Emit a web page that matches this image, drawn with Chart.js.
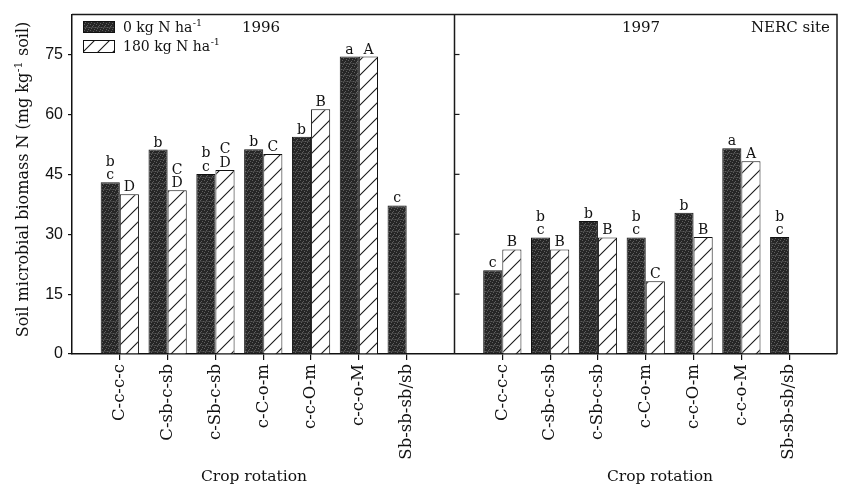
<!DOCTYPE html>
<html><head><meta charset="utf-8">
<script src="https://cdn.jsdelivr.net/npm/chart.js@4.4.0/dist/chart.umd.min.js"></script>
<style>html,body{margin:0;padding:0;background:#fff;}canvas{display:block;}</style>
</head><body>
<canvas id="c" width="844" height="484"></canvas>
<script>
// ---- data ----
const rotations = ['C-c-c-c','C-sb-c-sb','c-Sb-c-sb','c-C-o-m','c-c-O-m','c-c-o-M','Sb-sb-sb/sb'];
const panelYears = ['1996','1997'];
const siteName = 'NERC site';
const seriesMain = ['0 kg N ha','180 kg N ha'];
const seriesSup = '-1';
const yTicks = [0,15,30,45,60,75];
const n0_1996   = [43.0, 51.2, 45.1, 51.3, 54.4, 74.5, 37.2];
const n180_1996 = [40.0, 41.0, 46.1, 50.1, 61.3, 74.5, null];
const n0_1997   = [21.0, 29.2, 33.3, 29.2, 35.4, 51.5, 29.3];
const n180_1997 = [26.2, 26.2, 29.2, 18.2, 29.3, 48.3, null];
const let0_1996   = [['b','c'],['b'],['b','c'],['b'],['b'],['a'],['c']];
const let180_1996 = [['D'],['C','D'],['C','D'],['C'],['B'],['A'],[]];
const let0_1997   = [['c'],['b','c'],['b'],['b','c'],['b'],['a'],['b','c']];
const let180_1997 = [['B'],['B'],['B'],['C'],['B'],['A'],[]];

// ---- build ----
const nCat = rotations.length;
const rightOffset = nCat + 1;
const xPos = [];
rotations.forEach((r,i)=>xPos.push(i));
rotations.forEach((r,i)=>xPos.push(i+rightOffset));
const xLabels = rotations.concat(rotations);
const vals0 = n0_1996.concat(n0_1997);
const vals180 = n180_1996.concat(n180_1997);
const lets0 = let0_1996.concat(let0_1997);
const lets180 = let180_1996.concat(let180_1997);

const canvas = document.getElementById('c');
const mainCtx = canvas.getContext('2d');

function darkPattern(){
  const t=document.createElement('canvas'); t.width=6; t.height=6;
  const g=t.getContext('2d');
  g.fillStyle='#262626'; g.fillRect(0,0,6,6);
  g.fillStyle='#404040'; g.fillRect(0,3,6,1);
  g.fillStyle='#5e5e5e';
  [[0,0],[3,1],[1,4],[4,5],[2,2],[5,3]].forEach(p=>g.fillRect(p[0],p[1],1,1));
  return mainCtx.createPattern(t,'repeat');
}
function hatchPattern(){
  const s=15;
  const t=document.createElement('canvas'); t.width=s; t.height=s;
  const g=t.getContext('2d');
  g.fillStyle='#fff'; g.fillRect(0,0,s,s);
  g.strokeStyle='#1a1a1a'; g.lineWidth=1.1;
  g.beginPath();
  g.moveTo(-1,s+1); g.lineTo(s+1,-1);
  g.moveTo(-s/2-1,s/2+1); g.lineTo(s/2+1,-s/2-1);
  g.moveTo(s/2-1,s*1.5+1); g.lineTo(s*1.5+1,s/2-1);
  g.stroke();
  return mainCtx.createPattern(t,'repeat');
}

const SERIF='"DejaVu Serif", serif';

function drawWithSup(ctx, x, y, main, sup, size, align){
  ctx.font = size+'px '+SERIF;
  const w1 = ctx.measureText(main).width;
  ctx.font = (size*0.68)+'px '+SERIF;
  const w2 = ctx.measureText(sup).width;
  const total = w1 + w2;
  let x0 = x;
  if(align==='center') x0 = x - total/2;
  ctx.textAlign='left';
  ctx.font = size+'px '+SERIF;
  ctx.fillText(main, x0, y);
  ctx.font = (size*0.68)+'px '+SERIF;
  ctx.fillText(sup, x0+w1+0.5, y - size*0.42);
  return total;
}

const decor = {
  id:'decor',
  afterDraw(chart){
    const ctx=chart.ctx, ca=chart.chartArea, xs=chart.scales.x, ys=chart.scales.y;
    ctx.save();
    ctx.strokeStyle='#1a1a1a'; ctx.lineWidth=1.5;
    // frame top/right
    ctx.beginPath();
    ctx.moveTo(ca.left, ca.top); ctx.lineTo(ca.right, ca.top); ctx.lineTo(ca.right, ca.bottom);
    ctx.stroke();
    // divider
    const xd = xs.getPixelForValue(nCat);
    ctx.beginPath(); ctx.moveTo(xd, ca.top); ctx.lineTo(xd, ca.bottom); ctx.stroke();
    // inward ticks on divider
    ctx.lineWidth=1.2;
    yTicks.forEach(v=>{ if(v===0) return; const y=ys.getPixelForValue(v);
      ctx.beginPath(); ctx.moveTo(xd,y); ctx.lineTo(xd+5,y); ctx.stroke(); });
    ctx.fillStyle='#111';
    ctx.textBaseline='alphabetic';
    // letters above bars
    [lets0, lets180].forEach((L,di)=>{
      const meta=chart.getDatasetMeta(di);
      meta.data.forEach((el,i)=>{
        const arr=L[i]; if(!arr||!arr.length) return;
        const v = di===0?vals0[i]:vals180[i]; if(v==null) return;
        ctx.font='14px '+SERIF; ctx.textAlign='center';
        for(let j=arr.length-1, k=0;j>=0;j--,k++){
          ctx.fillText(arr[j], el.x, el.y-3-k*13.5);
        }
      });
    });
    // legend
    const ds=chart.data.datasets;
    const boxes=[[83,21,31,11],[83,40,31,12]];
    ds.forEach((d,i)=>{
      const b=boxes[i];
      ctx.fillStyle=d.backgroundColor; ctx.fillRect(b[0],b[1],b[2],b[3]);
      ctx.strokeStyle='#111'; ctx.lineWidth=1; ctx.strokeRect(b[0]+0.5,b[1]+0.5,b[2],b[3]);
      ctx.fillStyle='#111';
      drawWithSup(ctx,123,b[1]+b[3]/2+5,seriesMain[i],seriesSup,14,'left');
    });
    // panel titles
    ctx.fillStyle='#111';
    ctx.font='15px '+SERIF; ctx.textAlign='center';
    ctx.fillText(panelYears[0], 261, 32);
    ctx.fillText(panelYears[1], 641, 32);
    ctx.textAlign='right';
    ctx.fillText(siteName, 830, 32);
    // x titles
    ctx.textAlign='center';
    ctx.font='15.5px '+SERIF;
    ctx.fillText('Crop rotation', 254, 481);
    ctx.fillText('Crop rotation', 660, 481);
    // y title
    ctx.save();
    ctx.translate(28, 180); ctx.rotate(-Math.PI/2);
    ctx.font='16px '+SERIF;
    const p1='Soil microbial biomass N (mg kg', p2='-1', p3=' soil)';
    const w1=ctx.measureText(p1).width;
    ctx.font='11px '+SERIF; const w2=ctx.measureText(p2).width;
    ctx.font='16px '+SERIF; const w3=ctx.measureText(p3).width;
    let x0=-(w1+w2+w3)/2;
    ctx.textAlign='left';
    ctx.fillText(p1,x0,0);
    ctx.font='11px '+SERIF; ctx.fillText(p2,x0+w1+0.5,-6);
    ctx.font='16px '+SERIF; ctx.fillText(p3,x0+w1+w2+1,0);
    ctx.restore();
    ctx.restore();
  }
};

new Chart(canvas, {
  type:'bar',
  data:{
    datasets:[
      {label:seriesMain[0]+seriesSup, data:xPos.map((x,i)=>({x:x,y:vals0[i]})),
       backgroundColor:darkPattern(), borderColor:'#111', borderWidth:1,
       categoryPercentage:0.8, barPercentage:1},
      {label:seriesMain[1]+seriesSup, data:xPos.map((x,i)=>({x:x,y:vals180[i]})),
       backgroundColor:hatchPattern(), borderColor:'#111', borderWidth:1,
       categoryPercentage:0.8, barPercentage:1}
    ]
  },
  options:{
    responsive:false, animation:false, devicePixelRatio:1,
    layout:{padding:{top:11,right:7,left:0,bottom:0}},
    plugins:{legend:{display:false}, tooltip:{enabled:false}},
    scales:{
      x:{type:'linear', min:-1, max:2*nCat+1, offset:false,
         grid:{offset:false, drawOnChartArea:false, drawTicks:true, tickLength:6, color:'#111', lineWidth:1.2},
         border:{display:true, color:'#111', width:1.5},
         afterBuildTicks:(s)=>{ s.ticks = xPos.map(v=>({value:v})); },
         ticks:{autoSkip:false, minRotation:90, maxRotation:90, padding:4, color:'#111',
                font:{family:'"DejaVu Serif", serif', size:16.5},
                callback:(v)=>{ const i=xPos.indexOf(v); return i>=0?xLabels[i]:''; }},
         afterFit:(s)=>{ s.height=130; }
      },
      y:{type:'linear', min:0, max:85,
         grid:{drawOnChartArea:false, drawTicks:true, tickLength:4, color:'#111', lineWidth:1.2},
         border:{display:true, color:'#111', width:1.5},
         afterBuildTicks:(s)=>{ s.ticks = yTicks.map(v=>({value:v})); },
         ticks:{color:'#111', padding:5, font:{family:'"Liberation Sans", Arial, sans-serif', size:16}},
         afterFit:(s)=>{ s.width=72; }
      }
    }
  },
  plugins:[decor]
});
</script>
</body></html>
